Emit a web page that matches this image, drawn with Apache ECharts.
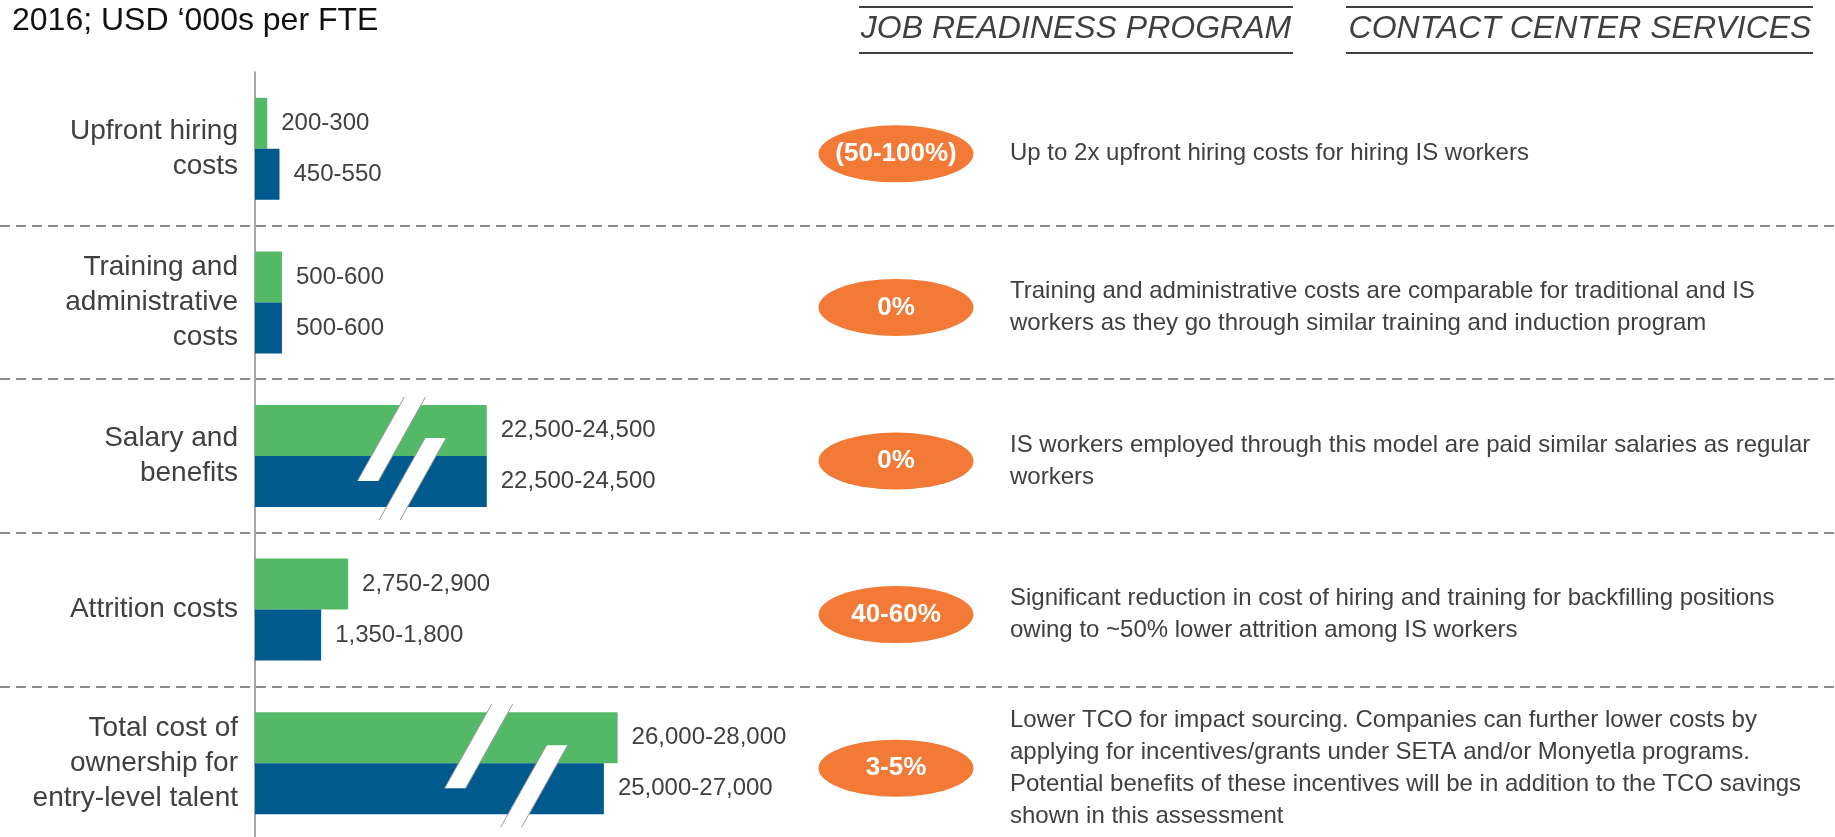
<!DOCTYPE html>
<html><head><meta charset="utf-8">
<script src="https://cdn.jsdelivr.net/npm/echarts@6/dist/echarts.min.js"></script>
<style>html,body{margin:0;padding:0;background:#fff}#c{width:1835px;height:837px}</style>
</head><body><div id="c"></div>
<script>
// ---- data ----
const categories = [
  'Upfront hiring\ncosts',
  'Training and\nadministrative\ncosts',
  'Salary and\nbenefits',
  'Attrition costs',
  'Total cost of\nownership for\nentry-level talent'
];
// range labels (USD '000s per FTE)
const traditionalLabels = ['200-300', '500-600', '22,500-24,500', '2,750-2,900', '26,000-28,000'];
const impactSourcingLabels = ['450-550', '500-600', '22,500-24,500', '1,350-1,800', '25,000-27,000'];
// plotted bar lengths as drawn in the picture (schematic, broken bars shortened)
const traditionalBars = [250, 550, 4730, 1900, 7400];
const impactSourcingBars = [500, 550, 4730, 1350, 7120];
// axis-break marks: [value position, category index, 0 = upper mark / 1 = lower mark]
const breakMarks = [[2590, 2, 0], [3480, 2, 1], [4370, 4, 0], [5960, 4, 1]];
const savingsBadges = ['(50-100%)', '0%', '0%', '40-60%', '3-5%'];
const descriptions = [
  'Up to 2x upfront hiring costs for hiring IS workers',
  'Training and administrative costs are comparable for traditional and IS\nworkers as they go through similar training and induction program',
  'IS workers employed through this model are paid similar salaries as regular\nworkers',
  'Significant reduction in cost of hiring and training for backfilling positions\nowing to ~50% lower attrition among IS workers',
  'Lower TCO for impact sourcing. Companies can further lower costs by\napplying for incentives/grants under SETA and/or Monyetla programs.\nPotential benefits of these incentives will be in addition to the TCO savings\nshown in this assessment'
];
const subtitle = '2016; USD \u2018000s per FTE';
const headers = ['JOB READINESS PROGRAM', 'CONTACT CENTER SERVICES'];

// ---- styles ----
const FONT = "'Liberation Sans', Arial, Helvetica, sans-serif";
const GREEN = '#54B967', BLUE = '#005A8D', ORANGE = '#F27A36', TXT = '#404040';

const chart = echarts.init(document.getElementById('c'), null, {renderer: 'canvas'});

const option = {
  animation: false,
  backgroundColor: '#fff',
  textStyle: {fontFamily: FONT},
  grid: [
    {left: 255, top: 72, width: 980, height: 768, outerBoundsMode: 'none', containLabel: false},
    {left: 0, right: 0, top: 72, height: 768, outerBoundsMode: 'none', containLabel: false}
  ],
  xAxis: [
    {gridIndex: 0, type: 'value', min: 0, max: 20000, show: false},
    {gridIndex: 1, type: 'value', min: 0, max: 1835, show: false}
  ],
  yAxis: [
    {
      gridIndex: 0, type: 'category', inverse: true, data: categories,
      axisLine: {show: true, lineStyle: {color: '#8a8a8a', width: 1.5}},
      axisTick: {show: false},
      splitLine: {show: false},
      axisLabel: {margin: 17, fontSize: 28, lineHeight: 35, color: TXT, fontFamily: FONT, align: 'right'}
    },
    {
      gridIndex: 1, type: 'category', inverse: true, data: categories,
      axisLine: {show: false}, axisTick: {show: false}, axisLabel: {show: false},
      splitLine: {
        show: true,
        interval: function (i) { return i !== 0; },
        lineStyle: {color: '#8c8c8c', width: 2, type: [10, 6]}
      }
    }
  ],
  series: [
    {
      type: 'bar', name: 'Traditional', xAxisIndex: 0, yAxisIndex: 0,
      data: traditionalBars, barWidth: 51, barGap: '0%',
      itemStyle: {color: GREEN},
      label: {show: true, position: 'right', distance: 14, fontSize: 24, color: TXT, fontFamily: FONT,
        formatter: p => traditionalLabels[p.dataIndex]},
      silent: true, z: 2
    },
    {
      type: 'bar', name: 'Impact sourcing', xAxisIndex: 0, yAxisIndex: 0,
      data: impactSourcingBars, barWidth: 51, barGap: '0%',
      itemStyle: {color: BLUE},
      label: {show: true, position: 'right', distance: 14, fontSize: 24, color: TXT, fontFamily: FONT,
        formatter: p => impactSourcingLabels[p.dataIndex]},
      silent: true, z: 2
    },
    {
      type: 'custom', xAxisIndex: 0, yAxisIndex: 0, data: breakMarks, clip: false, silent: true, z: 5,
      encode: {x: 0, y: 1},
      renderItem: function (params, api) {
        const c = api.coord([api.value(0), api.value(1)]);
        const lower = api.value(2) === 1;
        const barH = 51, k = 0.56, w = 21;
        const yt = lower ? c[1] - 18 : c[1] - barH - 8;
        const yb = lower ? c[1] + barH + 13 : c[1] + 25;
        const xt = c[0] + (c[1] - yt) * k, xb = c[0] - (yb - c[1]) * k;
        return {type: 'group', children: [
          {type: 'polygon', shape: {points: [[xt - w / 2, yt], [xt + w / 2, yt], [xb + w / 2, yb], [xb - w / 2, yb]]}, style: {fill: '#fff'}},
          {type: 'line', shape: {x1: xt - w / 2, y1: yt, x2: xb - w / 2, y2: yb}, style: {stroke: '#9a9a9a', lineWidth: 1}},
          {type: 'line', shape: {x1: xt + w / 2, y1: yt, x2: xb + w / 2, y2: yb}, style: {stroke: '#9a9a9a', lineWidth: 1}}
        ]};
      }
    },
    {
      type: 'scatter', xAxisIndex: 1, yAxisIndex: 1, silent: true,
      data: categories.map((c, i) => [896, i]),
      symbol: 'circle', symbolSize: [155, 57], symbolOffset: [0, 5],
      itemStyle: {color: ORANGE, opacity: 1},
      label: {show: true, position: 'inside', fontSize: 26, fontWeight: 'bold', color: '#fff', fontFamily: FONT,
        formatter: p => savingsBadges[p.dataIndex]},
      emphasis: {disabled: true}
    },
    {
      type: 'scatter', xAxisIndex: 1, yAxisIndex: 1, silent: true,
      data: categories.map((c, i) => [1010, i]),
      symbolSize: 0,
      itemStyle: {opacity: 1},
      label: {show: true, position: 'right', distance: 0, offset: [0, 5], fontSize: 24, lineHeight: 32, color: TXT, fontFamily: FONT,
        align: 'left', formatter: p => descriptions[p.dataIndex]},
      emphasis: {disabled: true}
    }
  ],
  graphic: [
    {type: 'text', x: 12, y: 21, style: {text: subtitle, fontSize: 32, fontFamily: FONT, fill: '#111', verticalAlign: 'middle', align: 'left'}},
    {type: 'line', shape: {x1: 859, y1: 7, x2: 1293, y2: 7}, style: {stroke: TXT, lineWidth: 2}},
    {type: 'line', shape: {x1: 859, y1: 53, x2: 1293, y2: 53}, style: {stroke: TXT, lineWidth: 2}},
    {type: 'text', x: 1076, y: 29, style: {text: headers[0], fontSize: 32, fontStyle: 'italic', fontFamily: FONT, fill: TXT, align: 'center', verticalAlign: 'middle'}},
    {type: 'line', shape: {x1: 1346, y1: 7, x2: 1813, y2: 7}, style: {stroke: TXT, lineWidth: 2}},
    {type: 'line', shape: {x1: 1346, y1: 53, x2: 1813, y2: 53}, style: {stroke: TXT, lineWidth: 2}},
    {type: 'text', x: 1580, y: 29, style: {text: headers[1], fontSize: 32, fontStyle: 'italic', fontFamily: FONT, fill: TXT, align: 'center', verticalAlign: 'middle'}}
  ]
};
chart.setOption(option);
</script>
</body></html>
